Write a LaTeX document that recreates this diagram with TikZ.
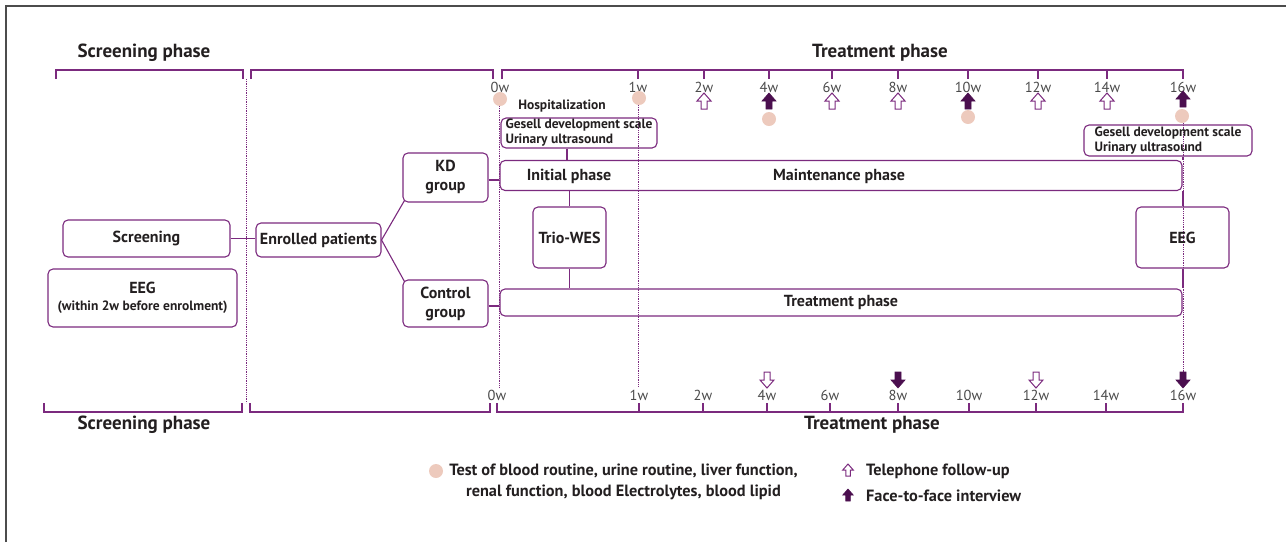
\documentclass[tikz,border=0pt]{standalone}
\usepackage{fontspec}
\setmainfont{PT Sans}
\usetikzlibrary{calc}
\definecolor{pline}{HTML}{7B2A7E}
\definecolor{pdark}{HTML}{4B0F4F}
\definecolor{ppink}{HTML}{EDCABD}
\definecolor{tx}{HTML}{231F20}
\definecolor{wk}{HTML}{4A4A4A}
\tikzset{
  box/.style={draw=pline, line width=1.1pt, rounded corners=5pt, text=tx,
    font=\bfseries\fontsize{16}{19}\selectfont, align=center, inner sep=0pt},
  conn/.style={draw=pline, line width=1.1pt},
  brk/.style={draw=pline, line width=1.6pt},
  dotl/.style={draw=pline, line width=0.8pt, densely dotted},
  head/.style={text=tx, font=\bfseries\fontsize{19}{22}\selectfont, inner sep=0pt},
  lbl/.style={text=tx, font=\bfseries\fontsize{16}{19}\selectfont, inner sep=0pt},
  small/.style={font=\bfseries\fontsize{13.5}{15}\selectfont},
  wklbl/.style={text=wk, font=\fontsize{14.5}{16}\selectfont, inner sep=0pt},
  dot/.style={fill=ppink, draw=none},
  uparrow/.pic={\path[pic actions] (0,-8)--(7,0)--(3,0)--(3,8)--(-3,8)--(-3,0)--(-7,0)--cycle;},
  downarrow/.pic={\path[pic actions] (0,8)--(7,0)--(3,0)--(3,-8)--(-3,-8)--(-3,0)--(-7,0)--cycle;},
  hollow/.style={draw=pline, fill=white, line width=1pt},
  solid/.style={draw=pdark, fill=pdark, line width=0.6pt},
}
\begin{document}
\begin{tikzpicture}[x=1pt,y=-1pt]
\useasboundingbox (0,0) rectangle (1286,542);
% frame
\draw[draw=black!70, line width=1.4pt] (6,542) -- (6,6) -- (1286,6);

% headings
\node[head] (h1) at (144,53) {Screening phase};
\node[head] (h2) at (880,53) {Treatment phase};
\node[head] (h3) at (144,425) {Screening phase};
\node[head] (h4) at (872,425) {Treatment phase};

% dotted vertical lines
\draw[dotl] (246,79) -- (246,403);
\draw[dotl] (499,106) -- (499,387);
\draw[dotl] (638,105) -- (638,387);
\draw[dotl] (1183,123) -- (1183,372);

% top brackets
\draw[brk] (56,79) -- (56,70) -- (243,70) -- (243,79);
\draw[brk] (251,79) -- (251,70) -- (493,70) -- (493,79);
\draw[brk] (502,79) -- (502,70) -- (1183,70) -- (1183,79);
\foreach \x in {638,704,769,832,898,968,1038,1107}
  \draw[brk] (\x,70) -- (\x,79);
% bottom brackets
\draw[brk] (44,403) -- (44,412) -- (242,412) -- (242,403);
\draw[brk] (250,403) -- (250,412) -- (490,412) -- (490,403);
\draw[brk] (497,403) -- (497,412) -- (1183,412) -- (1183,403);
\foreach \x in {639,703,767,830,898,969,1036,1106}
  \draw[brk] (\x,412) -- (\x,403);

% week labels
\node[wklbl] (t0) at (500,87) {0w};
\foreach \x/\w in {638/1,704/2,769/4,832/6,898/8,968/10,1038/12,1107/14,1183/16}
  \node[wklbl] (t\w) at (\x,87) {\w w};
\node[wklbl] (b0) at (497,395) {0w};
\foreach \x/\w in {639/1,703/2,767/4,830/6,898/8,969/10,1036/12,1106/14,1183/16}
  \node[wklbl] (b\w) at (\x,395) {\w w};

% pink circles
\foreach \x/\y in {500/99,639/98,769/119,968/117,1182/116}
  \fill[dot] (\x,\y) circle (7);

% top arrows
\foreach \x in {704,832,898,1038,1107}
  \pic[hollow] at (\x,101) {uparrow};
\foreach \x in {769,968}
  \pic[solid] at (\x,101) {uparrow};
\pic[solid] at (1183,99) {uparrow};
% bottom arrows
\foreach \x in {767,1036}
  \pic[hollow] at (\x,380) {downarrow};
\foreach \x in {898,1183}
  \pic[solid] at (\x,380) {downarrow};

% boxes
\node[lbl, small] (hosp) at (562,106) {Hospitalization};
\node[box, small, minimum width=156, minimum height=30, align=left] (gesl) at (579,133)
  {Gesell development scale\\Urinary ultrasound};
\node[box, small, minimum width=168, minimum height=31, align=left] (gesr) at (1168,140.5)
  {Gesell development scale\\Urinary ultrasound};
\node[box, minimum width=167, minimum height=37] (scr) at (146.5,238.5) {Screening};
\node[box, minimum width=189, minimum height=58] (eegl) at (142.5,298)
  {EEG\\[-2pt]{\fontsize{13.5}{15}\selectfont(within 2w before enrolment)}};
\node[box, minimum width=125, minimum height=34] (enr) at (318.5,240) {Enrolled patients};
\node[box, minimum width=85, minimum height=49] (kd) at (445.5,177.5) {KD\\group};
\node[box, minimum width=85, minimum height=47] (ctrl) at (445.5,303.5) {Control\\group};
\node[box, minimum width=682, minimum height=30] (maint) at (841,175.5) {};
\node[lbl] (init) at (569,176) {Initial phase};
\node[lbl] (mtxt) at (839,176) {Maintenance phase};
\node[box, minimum width=73, minimum height=61] (wes) at (569.5,237.5) {Trio-WES};
\node[box, minimum width=93, minimum height=61] (eegr) at (1182.5,237.5) {EEG};
\node[box, minimum width=682, minimum height=27] (treat) at (841,302.5) {Treatment phase};

% connectors
\draw[conn] (scr.east) -- (scr.east -| enr.west);
\draw[conn] (enr.east) -- ($(kd.south west)+(2,-2)$);
\draw[conn] (enr.east) -- ($(ctrl.north west)+(2,2)$);
\draw[conn] (kd.east |- 0,180) -- (maint.west |- 0,180);
\draw[conn] (ctrl.east |- 0,306) -- (treat.west |- 0,306);
\draw[conn] (gesl.south -| 567,0) -- (maint.north -| 567,0);
\draw[conn] (maint.south -| wes.north) -- (wes.north);
\draw[conn] (wes.south) -- (treat.north -| wes.south);
\draw[conn] (gesr.south -| 1183,0) -- (maint.north -| 1183,0);
\draw[conn] (maint.south -| 1183,0) -- (eegr.north -| 1183,0);
\draw[conn] (eegr.south -| 1183,0) -- (treat.north -| 1183,0);

% legend
\fill[dot] (436,471) circle (7);
\node[lbl, align=center, font=\bfseries\fontsize{16.3}{21}\selectfont] (leg1) at (623.5,481.5)
  {Test of blood routine, urine routine, liver function,\\renal function, blood Electrolytes, blood lipid};
\pic[hollow, scale=0.75] at (848,470) {uparrow};
\node[lbl, anchor=west, font=\bfseries\fontsize{16.3}{19}\selectfont] (leg2) at (866,471) {Telephone follow-up};
\pic[solid, scale=0.75] at (848,495) {uparrow};
\node[lbl, anchor=west, font=\bfseries\fontsize{16.3}{19}\selectfont] (leg3) at (866,496) {Face-to-face interview};
\end{tikzpicture}
\end{document}
